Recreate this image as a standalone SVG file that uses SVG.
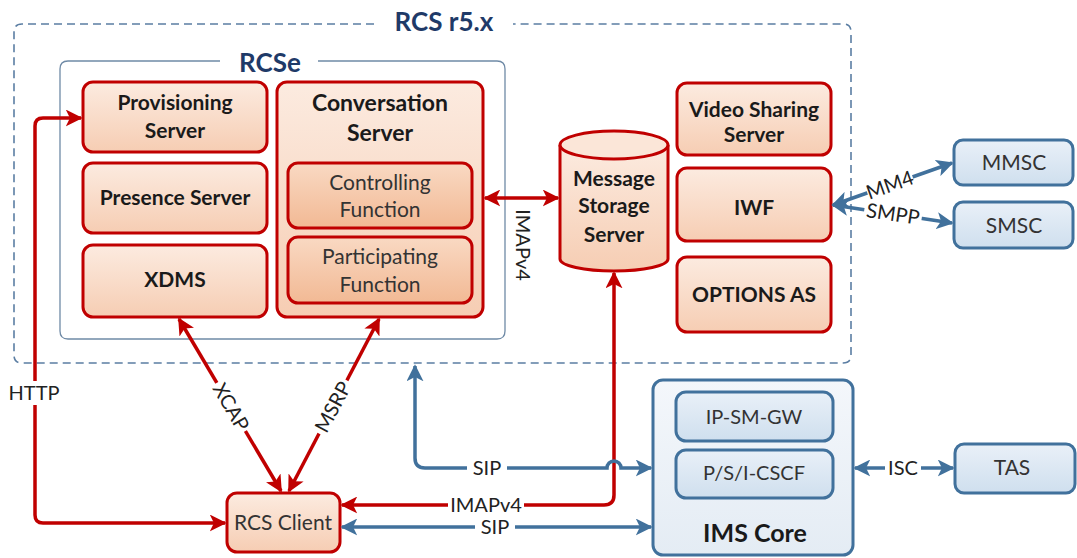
<svg xmlns="http://www.w3.org/2000/svg" width="1077" height="558" viewBox="0 0 1077 558">
<defs>
<linearGradient id="gp" x1="0" y1="0" x2="0" y2="1"><stop offset="0" stop-color="#fcebe0"/><stop offset="1" stop-color="#f6cdb3"/></linearGradient>
<linearGradient id="gp2" x1="0" y1="0" x2="0" y2="1"><stop offset="0" stop-color="#f9d9c3"/><stop offset="1" stop-color="#f2b994"/></linearGradient>
<linearGradient id="gb" x1="0" y1="0" x2="0" y2="1"><stop offset="0" stop-color="#e9f0f8"/><stop offset="1" stop-color="#cfdfee"/></linearGradient>
<linearGradient id="gb2" x1="0" y1="0" x2="0" y2="1"><stop offset="0" stop-color="#f4f7fb"/><stop offset="1" stop-color="#e4ecf4"/></linearGradient>
<marker id="ar" viewBox="0 0 10 10" refX="9" refY="5" markerWidth="17" markerHeight="17" markerUnits="userSpaceOnUse" orient="auto-start-reverse"><path d="M0,0 L10,5 L0,10 L2.5,5 z" fill="#c00000"/></marker>
<marker id="ab" viewBox="0 0 10 10" refX="9" refY="5" markerWidth="17" markerHeight="17" markerUnits="userSpaceOnUse" orient="auto-start-reverse"><path d="M0,0 L10,5 L0,10 L2.5,5 z" fill="#41719c"/></marker>
<style>
.rn{fill:url(#gp);stroke:#c00000;stroke-width:3}
.rn2{fill:url(#gp2);stroke:#c00000;stroke-width:3}
.bn{fill:url(#gb);stroke:#41719c;stroke-width:3}
text{font-family:Lato,"Open Sans","Liberation Sans",sans-serif;fill:#1a1a1a;text-anchor:middle}
.b{font-weight:bold;font-size:21px}
.n{font-size:21px;fill:#333}
.t{font-weight:bold;font-size:26px;fill:#1f3a68}
.l{font-size:20px;fill:#222}
.bg{fill:#fff}
.rc{fill:none;stroke:#c00000;stroke-width:3.5}
.bc{fill:none;stroke:#41719c;stroke-width:3.5}
</style>
</defs>
<rect width="1077" height="558" fill="#fff"/>
<g id="rcs-r5x">
<path d="M374 24 H22 Q14 24 14 32 V355 Q14 363 22 363 H843 Q851 363 851 355 V32 Q851 24 843 24 H513" fill="none" stroke="#5b7ea3" stroke-width="1.6" stroke-dasharray="8,5"/>
<text class="t" x="444" y="31">RCS r5.x</text>
</g>
<g id="rcse">
<path d="M220 61 H68 Q60 61 60 69 V331 Q60 339 68 339 H497 Q505 339 505 331 V69 Q505 61 497 61 H318" fill="none" stroke="#6f8aa6" stroke-width="1.3"/>
<text class="t" x="270" y="72">RCSe</text>
</g>
<g id="provisioning-server"><rect class="rn" x="83" y="82" width="184" height="70" rx="10"/><text class="b" x="175" y="110">Provisioning</text><text class="b" x="175" y="138">Server</text></g>
<g id="presence-server"><rect class="rn" x="83" y="163" width="184" height="70" rx="10"/><text class="b" x="175" y="205">Presence Server</text></g>
<g id="xdms"><rect class="rn" x="83" y="245" width="184" height="72" rx="10"/><text class="b" x="175" y="287">XDMS</text></g>
<g id="conversation-server"><rect class="rn" x="277" y="82" width="206" height="235" rx="10"/><text class="b" x="380" y="111" style="font-size:23px">Conversation</text><text class="b" x="380" y="141" style="font-size:23px">Server</text></g>
<g id="controlling-function"><rect class="rn2" x="288" y="163" width="184" height="65" rx="10"/><text class="n" x="380" y="190">Controlling</text><text class="n" x="380" y="217">Function</text></g>
<g id="participating-function"><rect class="rn2" x="288" y="237" width="184" height="66" rx="10"/><text class="n" x="380" y="264">Participating</text><text class="n" x="380" y="292">Function</text></g>
<g id="message-storage-server">
<path d="M560 145 V259 A54 12 0 0 0 668 259 V145" fill="url(#gp)" stroke="#c00000" stroke-width="3"/>
<ellipse cx="614" cy="145" rx="54" ry="14" fill="#fbe6d8" stroke="#c00000" stroke-width="3"/>
<text class="b" x="614" y="186">Message</text><text class="b" x="614" y="213">Storage</text><text class="b" x="614" y="242">Server</text>
</g>
<g id="video-sharing-server"><rect class="rn" x="677" y="83" width="154" height="72" rx="10"/><text class="b" x="754" y="117">Video Sharing</text><text class="b" x="754" y="142">Server</text></g>
<g id="iwf"><rect class="rn" x="677" y="168" width="154" height="73" rx="10"/><text class="b" x="754" y="215">IWF</text></g>
<g id="options-as"><rect class="rn" x="677" y="257" width="154" height="75" rx="10"/><text class="b" x="754" y="302">OPTIONS AS</text></g>
<g id="mmsc"><rect class="bn" x="954" y="140" width="119" height="45" rx="9"/><text class="n" x="1014" y="170">MMSC</text></g>
<g id="smsc"><rect class="bn" x="954" y="202" width="119" height="46" rx="9"/><text class="n" x="1014" y="233">SMSC</text></g>
<g id="tas"><rect class="bn" x="955" y="444" width="120" height="49" rx="9"/><text class="n" x="1012" y="475">TAS</text></g>
<g id="ims-core"><rect x="653" y="380" width="200" height="175" rx="10" fill="url(#gb2)" stroke="#41719c" stroke-width="3"/><text class="t" x="755" y="542" style="fill:#1a1a1a;font-size:25px">IMS Core</text></g>
<g id="ip-sm-gw"><rect class="bn" x="676" y="392" width="157" height="49" rx="10"/><text class="n" x="754" y="424" style="font-size:20px">IP-SM-GW</text></g>
<g id="pscscf"><rect class="bn" x="676" y="450" width="157" height="48" rx="10"/><text class="n" x="754" y="480" style="font-size:20px">P/S/I-CSCF</text></g>
<g id="rcs-client"><rect class="rn" x="227" y="493" width="113" height="59" rx="10"/><text class="n" x="283" y="530">RCS Client</text></g>
<g id="connectors">
<path class="rc" d="M81 118 H43 Q35 118 35 126 V515 Q35 523 43 523 H225" marker-start="url(#ar)" marker-end="url(#ar)"/>
<g transform="translate(34 393)"><rect class="bg" x="-25" y="-12" width="50" height="24"/><text class="l" y="7">HTTP</text></g>
<path class="rc" d="M485 198 H558" marker-start="url(#ar)" marker-end="url(#ar)"/>
<text class="l" x="0" y="0" transform="translate(516 245) rotate(90)">IMAPv4</text>
<path class="rc" d="M179 319 L281 491" marker-start="url(#ar)" marker-end="url(#ar)"/>
<g transform="translate(231 407) rotate(60)"><rect class="bg" x="-28" y="-11" width="56" height="22"/><text class="l" y="7">XCAP</text></g>
<path class="rc" d="M379 319 L289 491" marker-start="url(#ar)" marker-end="url(#ar)"/>
<g transform="translate(333 407) rotate(-62)"><rect class="bg" x="-30" y="-11" width="60" height="22"/><text class="l" y="7">MSRP</text></g>
<path class="rc" d="M614 273 V495 Q614 505 604 505 H342" marker-start="url(#ar)" marker-end="url(#ar)"/>
<g transform="translate(486 505)"><rect class="bg" x="-38" y="-11" width="76" height="22"/><text class="l" y="7">IMAPv4</text></g>
<path class="bc" d="M651 468 H621 A7 7 0 0 0 607 468 H425 Q415 468 415 458 V366" marker-start="url(#ab)" marker-end="url(#ab)"/>
<g transform="translate(487 468)"><rect class="bg" x="-20" y="-11" width="40" height="22"/><text class="l" y="7">SIP</text></g>
<path class="bc" d="M342 527 H651" marker-start="url(#ab)" marker-end="url(#ab)"/>
<g transform="translate(495 527)"><rect class="bg" x="-20" y="-11" width="40" height="22"/><text class="l" y="7">SIP</text></g>
<path class="bc" d="M833 205 L952 163" marker-start="url(#ab)" marker-end="url(#ab)"/>
<g transform="translate(890 185) rotate(-19.4)"><rect class="bg" x="-24" y="-10" width="48" height="20"/><text class="l" y="7">MM4</text></g>
<path class="bc" d="M833 205 L952 223" marker-start="url(#ab)" marker-end="url(#ab)"/>
<g transform="translate(893 214) rotate(8.6)"><rect class="bg" x="-29" y="-10" width="58" height="20"/><text class="l" y="7">SMPP</text></g>
<path class="bc" d="M855 468 H953" marker-start="url(#ab)" marker-end="url(#ab)"/>
<g transform="translate(903 468)"><rect class="bg" x="-18" y="-11" width="36" height="22"/><text class="l" y="7">ISC</text></g>
</g>
</svg>
